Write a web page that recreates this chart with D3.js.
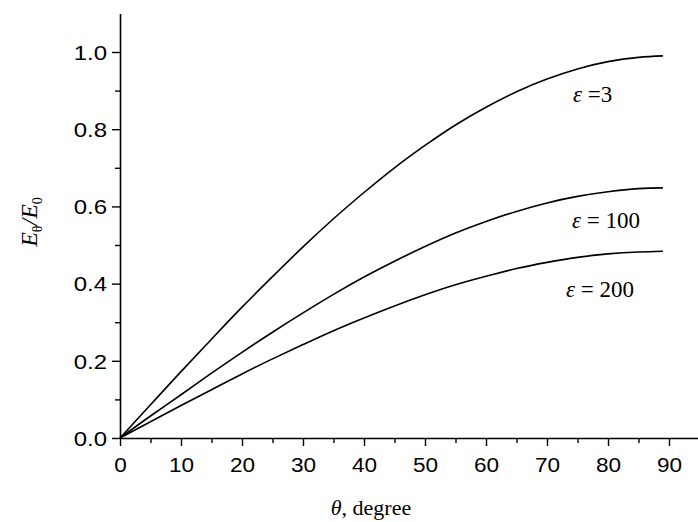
<!DOCTYPE html>
<html><head><meta charset="utf-8">
<script src="https://cdn.jsdelivr.net/npm/d3@7"></script>
<style>html,body{margin:0;padding:0;background:#fff;}svg{display:block;}</style>
</head><body>
<svg id="c" width="698" height="522"></svg>
<script>
const theta = [0,5,10,15,20,25,30,35,40,45,50,55,60,65,70,75,80,85,89];
const eps3   = [0,0.086,0.172,0.256,0.339,0.418,0.495,0.568,0.636,0.700,0.758,0.811,0.857,0.897,0.930,0.956,0.975,0.986,0.990];
const eps100 = [0,0.057,0.112,0.168,0.222,0.274,0.324,0.372,0.417,0.458,0.496,0.531,0.561,0.587,0.609,0.626,0.638,0.646,0.648];
const eps200 = [0,0.042,0.084,0.125,0.166,0.205,0.242,0.278,0.311,0.342,0.371,0.397,0.419,0.439,0.455,0.468,0.477,0.482,0.484];
const seriesLabels = ["\u03b5 =3", "\u03b5 = 100", "\u03b5 = 200"];
const xTicks = [0,10,20,30,40,50,60,70,80,90];
const yTicks = [0.0,0.2,0.4,0.6,0.8,1.0];

const svg = d3.select("#c");
const x = d3.scaleLinear().domain([0,95]).range([120,699.5]);
const y = d3.scaleLinear().domain([0,1.1]).range([438,13.4]);

// axes
const xAxis = svg.append("g").attr("transform","translate(0,438)")
  .call(d3.axisBottom(x).tickValues(xTicks).tickFormat(d3.format("d")).tickSize(8).tickSizeOuter(0));
const xMinor = svg.append("g").attr("transform","translate(0,438)")
  .call(d3.axisBottom(x).tickValues(d3.range(5,95,10)).tickFormat("").tickSize(5).tickSizeOuter(0));
xMinor.select(".domain").remove();
const yAxis = svg.append("g").attr("transform","translate(120,0)")
  .call(d3.axisLeft(y).tickValues(yTicks).tickFormat(d3.format(".1f")).tickSize(8).tickSizeOuter(0));
const yMinor = svg.append("g").attr("transform","translate(120,0)")
  .call(d3.axisLeft(y).tickValues([0.1,0.3,0.5,0.7,0.9]).tickFormat("").tickSize(5).tickSizeOuter(0));
yMinor.select(".domain").remove();
svg.selectAll(".domain").attr("stroke","#000").attr("stroke-width",1.6);
svg.selectAll(".tick line").attr("stroke","#000").attr("stroke-width",1.4);
svg.selectAll(".tick text").attr("font-family","Liberation Sans, Arial, sans-serif").attr("font-size",20.5).attr("fill","#000");
xAxis.selectAll(".tick text").attr("dy","0").attr("y",0).attr("transform","translate(0,34) scale(1.1,1)");
yAxis.selectAll(".tick text").attr("x",0).attr("dy","0.36em").attr("transform","translate(-13,0) scale(1.17,1)");

// lines
const line = d3.line().x((d,i)=>x(theta[i])).y(d=>y(d)).curve(d3.curveNatural);
[eps3,eps100,eps200].forEach(s=>{
  svg.append("path").datum(s).attr("d",line).attr("fill","none").attr("stroke","#000").attr("stroke-width",1.6);
});

// series labels
const labPos = [[573,102],[572,228],[566,297]];
seriesLabels.forEach((t,i)=>{
  const parts = t.split(/(\u03b5)/).filter(p=>p.length);
  const tx = svg.append("text").attr("x",labPos[i][0]).attr("y",labPos[i][1])
    .attr("font-family","Liberation Serif, Times New Roman, serif").attr("font-size",23).attr("fill","#000");
  parts.forEach(p=>{
    tx.append("tspan").attr("font-style", p==="\u03b5" ? "italic":"normal").text(p);
  });
});

// x axis title
const xt = svg.append("text").attr("x",371).attr("y",515).attr("text-anchor","middle")
  .attr("font-family","Liberation Serif, Times New Roman, serif").attr("font-size",22).attr("fill","#000");
xt.append("tspan").attr("font-style","italic").text("\u03b8");
xt.append("tspan").text(", degree");

// y axis title
const yt = svg.append("text").attr("x",0).attr("y",0).attr("text-anchor","middle")
  .attr("transform","translate(37,222) rotate(-90)")
  .attr("font-family","Liberation Serif, Times New Roman, serif").attr("font-size",24).attr("fill","#000");
yt.append("tspan").attr("font-style","italic").text("E");
yt.append("tspan").attr("font-size",14).attr("dy",5).text("\u03b8");
yt.append("tspan").attr("font-style","italic").attr("dy",-5).text("/E");
yt.append("tspan").attr("font-size",14).attr("dy",5).text("0");
</script>
</body></html>
